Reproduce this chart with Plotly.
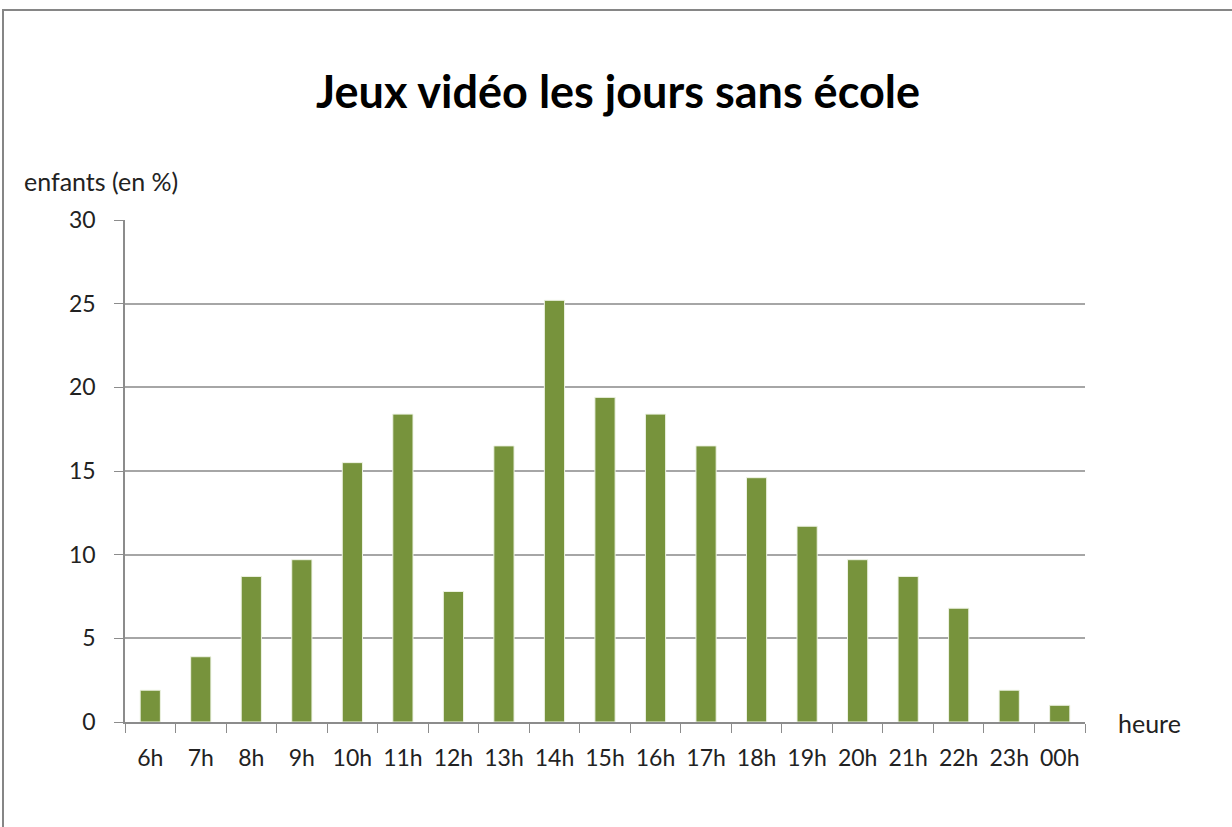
import plotly.graph_objects as go

heures = ['6h', '7h', '8h', '9h', '10h', '11h', '12h', '13h', '14h', '15h',
          '16h', '17h', '18h', '19h', '20h', '21h', '22h', '23h', '00h']
enfants = [1.9, 3.9, 8.7, 9.7, 15.5, 18.4, 7.8, 16.5, 25.2, 19.4,
           18.4, 16.5, 14.6, 11.7, 9.7, 8.7, 6.8, 1.9, 1.0]
y_ticks = [0, 5, 10, 15, 20, 25, 30]

W, H = 1232, 827
ml, mr, mt, mb = 125, 147, 220, 105
pw, ph = W - ml - mr, H - mt - mb

def px_x(p):
    return (p - ml) / pw

def px_y(p):
    return (H - mb - p) / ph

fnt = 'Lato, Open Sans, sans-serif'

fig = go.Figure(go.Bar(
    x=heures, y=enfants,
    marker=dict(color='#77933C', line=dict(color='#eef3e4', width=1)),
))

fig.update_layout(
    width=W, height=H,
    margin=dict(l=ml, r=mr, t=mt, b=mb),
    plot_bgcolor='white', paper_bgcolor='white',
    bargap=0.6,
    showlegend=False,
    font=dict(family=fnt, size=23, color='#222'),
    title=dict(text='<b>Jeux vidéo les jours sans école</b>',
               x=618 / W, xref='container', xanchor='center',
               y=1 - 92 / H, yanchor='middle',
               font=dict(family=fnt, size=45, color='black')),
)

fig.update_xaxes(
    type='category', showline=True, linecolor='#8c8c8c', linewidth=1.5,
    ticks='outside', tickson='boundaries', ticklen=9, tickcolor='#8c8c8c',
    showgrid=False, ticklabelstandoff=15,
)
fig.update_yaxes(
    range=[0, 30], tickvals=y_ticks, showline=True, linecolor='#8c8c8c',
    linewidth=1.5, ticks='outside', ticklen=9, tickcolor='#8c8c8c',
    showgrid=True, gridcolor='#a6a6a6', gridwidth=1.5, zeroline=False,
    ticklabelstandoff=14,
)

fig.add_annotation(text='enfants (en %)', xref='paper', yref='paper',
                   x=px_x(22), y=px_y(181), xanchor='left', yanchor='middle',
                   showarrow=False, font=dict(size=25, color='#222'))
fig.add_annotation(text='heure', xref='paper', yref='paper',
                   x=px_x(1116), y=px_y(723), xanchor='left', yanchor='middle',
                   showarrow=False, font=dict(size=25, color='#222'))

# cadre du graphique
fig.add_shape(type='rect', xref='paper', yref='paper',
              x0=px_x(3), x1=px_x(1245), y0=px_y(840), y1=px_y(10),
              line=dict(color='#868686', width=2), layer='below')

fig.write_html('out.html', config={'displayModeBar': False},
               post_script="document.body.style.margin='0';")
